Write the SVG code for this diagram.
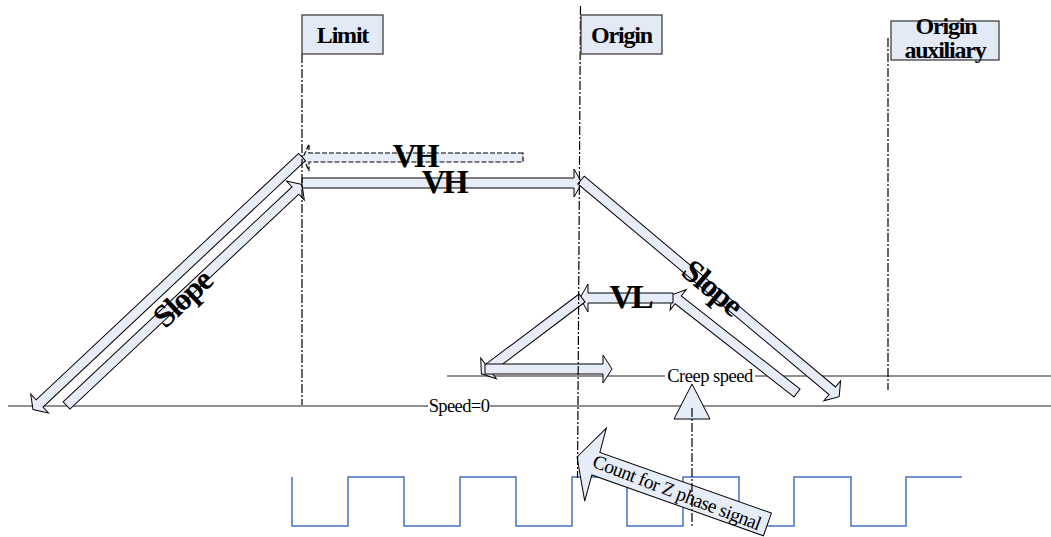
<svg xmlns="http://www.w3.org/2000/svg" width="1051" height="537" viewBox="0 0 1051 537">
<style>
.box{fill:#E4EAF5;stroke:#404040;stroke-width:1.3}
.lbl{font-family:"Liberation Serif","Times New Roman",serif;font-weight:bold;fill:#000}
.reg{font-family:"Liberation Serif","Times New Roman",serif;fill:#000}
.arr{fill:#E7EDF8;stroke:#000;stroke-width:1}
.dash{fill:#E7EDF8;stroke:#000;stroke-width:1.2;stroke-dasharray:5,2}
.axis{stroke:#222;stroke-width:1.2;fill:none}
.dd{stroke:#000;stroke-width:1.2;fill:none;stroke-dasharray:9,2,2,2}
.wave{stroke:#4472C4;stroke-width:1.5;fill:none}
</style>
<rect width="1051" height="537" fill="#fff"/>

<g id="axes">
  <path class="axis" d="M8,406 H428 M490,406 H1051"/>
  <path class="axis" d="M447,376 H665 M755,376 H1051"/>
  <text class="reg" x="459" y="412" font-size="18.5" letter-spacing="-0.6" text-anchor="middle">Speed=0</text>
  <text class="reg" x="710" y="381.5" font-size="18.5" letter-spacing="-0.5" text-anchor="middle">Creep speed</text>
</g>

<g id="z-signal">
  <path class="wave" d="M292,477 V526 H348 V477 H404 V526 H460 V477 H516 V526 H572 V477 H627 V526 H683 V477 H739 V526 H794 V477 H851 V526 H906 V477 H962"/>
</g>

<g id="connectors">
  <path class="dash" d="M523,153 H309 V144 L303,157.5 L309,171 V162 H523 Z"/>
  <path class="arr" transform="translate(302,157) rotate(136.8)" d="M0,-5 H360 V-13 L369,0 L360,13 V5 H0 Z"/>
  <path class="arr" transform="translate(66.5,405.5) rotate(-43.2)" d="M0,-5 H314 V-13 L323,0 L314,13 V5 H0 Z"/>
  <path class="arr" d="M302,178 H574 V169 L582,183 L574,197 V188 H302 Z"/>
  <path class="arr" transform="translate(581,180) rotate(40)" d="M0,-5 H328 V-13 L337,0 L328,13 V5 H0 Z"/>
  <path class="arr" transform="translate(797,393) rotate(-141.9)" d="M0,-5 H151 V-13 L159,0 L151,13 V5 H0 Z"/>
  <path class="arr" d="M673,293 H588 V284 L580,298 L588,312 V303 H673 Z"/>
  <path class="arr" transform="translate(582,298) rotate(143)" d="M0,-5 H117 V-13 L126,0 L117,13 V5 H0 Z"/>
  <path class="arr" d="M485,364 H603 V355 L612,369 L603,383 V374 H485 Z"/>
  <path class="arr" d="M692,384 L710,419 H674 Z"/>
</g>

<g id="count-arrow" transform="translate(577,457) rotate(19.5)">
  <path class="arr" stroke-width="1.2" d="M0,0 L18,-37 L20,-12 H202 V12 H20 L22,39 Z"/>
  <text class="reg" x="106" y="6.5" font-size="19.5" letter-spacing="-0.6" text-anchor="middle" transform="rotate(1.5 106 0)">Count for Z phase signal</text>
</g>

<g id="texts">
  <text class="lbl" x="415" y="167" font-size="33" letter-spacing="-2.5" text-anchor="middle">VH</text>
  <text class="lbl" x="444" y="193" font-size="33" letter-spacing="-2.5" text-anchor="middle">VH</text>
  <text class="lbl" x="630" y="308" font-size="34" letter-spacing="-3" text-anchor="middle">VL</text>
  <text class="lbl" font-size="32" letter-spacing="-1.5" text-anchor="middle" transform="translate(183,299) rotate(-43.2)" y="10">Slope</text>
  <text class="lbl" font-size="32" letter-spacing="-1.5" text-anchor="middle" transform="translate(712,288) rotate(40)" y="10">Slope</text>
</g>

<g id="guides">
  <path class="dd" d="M302,54 V405"/>
  <path class="dd" d="M580.5,6 L577.5,478"/>
  <path class="dd" d="M888,38 V390"/>
  <path class="dd" d="M692,408 V527"/>
</g>

<g id="limit">
  <rect class="box" x="302" y="15" width="81" height="39"/>
  <text class="lbl" x="342.5" y="43" font-size="24" letter-spacing="-1.2" text-anchor="middle">Limit</text>
</g>
<g id="origin">
  <rect class="box" x="581" y="15" width="81" height="39"/>
  <text class="lbl" x="621.5" y="43" font-size="24" letter-spacing="-1.2" text-anchor="middle">Origin</text>
</g>
<g id="origin-auxiliary">
  <rect class="box" x="891" y="21" width="108" height="39"/>
  <text class="lbl" x="946" y="34" font-size="24" letter-spacing="-1.2" text-anchor="middle">Origin</text>
  <text class="lbl" x="945" y="58" font-size="24" letter-spacing="-1.2" text-anchor="middle">auxiliary</text>
</g>
</svg>
